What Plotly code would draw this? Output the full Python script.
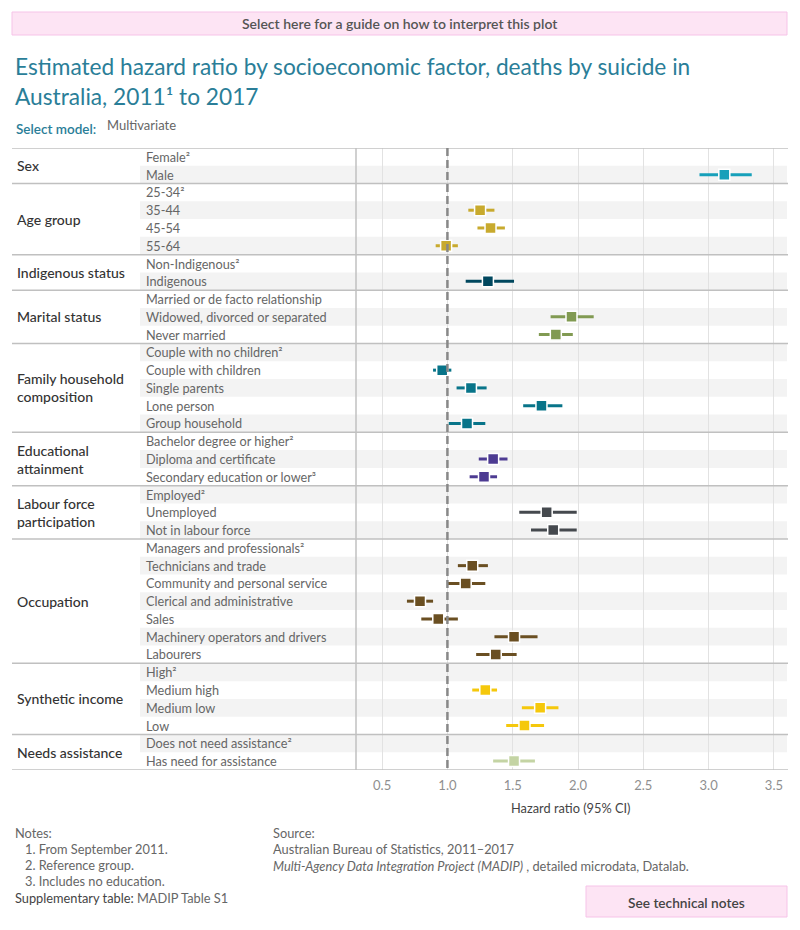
import plotly.graph_objects as go

# ---------------- data ----------------
group_names = ["Sex", "Age group", "Indigenous status", "Marital status",
               "Family household<br>composition", "Educational<br>attainment",
               "Labour force<br>participation", "Occupation", "Synthetic income",
               "Needs assistance"]
group_colors = ["#17a0ba", "#c8aa2e", "#00475e", "#819a52", "#087489",
                "#4d3b92", "#45494e", "#6a4f22", "#f5c80c", "#c4d4a4"]

row_group = [0, 0,
             1, 1, 1, 1,
             2, 2,
             3, 3, 3,
             4, 4, 4, 4, 4,
             5, 5, 5,
             6, 6, 6,
             7, 7, 7, 7, 7, 7, 7,
             8, 8, 8, 8,
             9, 9]
row_labels = ["Female²", "Male",
              "25-34²", "35-44", "45-54", "55-64",
              "Non-Indigenous²", "Indigenous",
              "Married or de facto relationship", "Widowed, divorced or separated", "Never married",
              "Couple with no children²", "Couple with children", "Single parents", "Lone person", "Group household",
              "Bachelor degree or higher²", "Diploma and certificate", "Secondary education or lower³",
              "Employed²", "Unemployed", "Not in labour force",
              "Managers and professionals²", "Technicians and trade", "Community and personal service",
              "Clerical and administrative", "Sales", "Machinery operators and drivers", "Labourers",
              "High²", "Medium high", "Medium low", "Low",
              "Does not need assistance²", "Has need for assistance"]
hazard = [None, 3.12,
          None, 1.25, 1.33, 0.99,
          None, 1.31,
          None, 1.95, 1.83,
          None, 0.96, 1.18, 1.72, 1.15,
          None, 1.35, 1.28,
          None, 1.76, 1.81,
          None, 1.19, 1.14, 0.79, 0.93, 1.51, 1.37,
          None, 1.29, 1.71, 1.59,
          None, 1.51]
ci_low = [None, 2.93,
          None, 1.16, 1.23, 0.91,
          None, 1.14,
          None, 1.79, 1.70,
          None, 0.89, 1.07, 1.58, 1.01,
          None, 1.24, 1.17,
          None, 1.55, 1.64,
          None, 1.08, 1.00, 0.69, 0.80, 1.36, 1.22,
          None, 1.19, 1.57, 1.45,
          None, 1.35]
ci_high = [None, 3.33,
           None, 1.36, 1.44, 1.08,
           None, 1.51,
           None, 2.12, 1.96,
           None, 1.03, 1.30, 1.88, 1.29,
           None, 1.46, 1.38,
           None, 1.99, 1.99,
           None, 1.31, 1.29, 0.89, 1.08, 1.69, 1.53,
           None, 1.38, 1.85, 1.74,
           None, 1.67]
x_ticks = [0.5, 1.0, 1.5, 2.0, 2.5, 3.0, 3.5]
x_range = [0.3, 3.6]

# ---------------- layout helpers ----------------
W, H = 800, 930
FONT = "Lato"
def px(x):
    return x / W
def py(y):
    return 1 - y / H

PLOT_L, PLOT_R = 356, 787
PLOT_T, PLOT_B = 148, 770
n_rows = len(row_labels)

fig = go.Figure()

for g, (gname, col) in enumerate(zip(group_names, group_colors)):
    idx = [i for i in range(n_rows) if row_group[i] == g and hazard[i] is not None]
    fig.add_trace(go.Scatter(
        x=[hazard[i] for i in idx],
        y=[i for i in idx],
        mode="markers",
        marker=dict(symbol="square", size=11, color=col,
                    line=dict(color="white", width=1.5)),
        error_x=dict(type="data", symmetric=False,
                     array=[ci_high[i] - hazard[i] for i in idx],
                     arrayminus=[hazard[i] - ci_low[i] for i in idx],
                     color=col, thickness=3, width=0),
        name=gname.replace("<br>", " "),
        showlegend=False,
        hovertemplate="%{x:.2f}<extra></extra>",
    ))

shapes = []
annotations = []

# row shading
for i in range(n_rows):
    if i % 2 == 1:
        shapes.append(dict(type="rect", xref="paper", yref="y",
                           x0=px(140), x1=px(PLOT_R), y0=i - 0.5, y1=i + 0.5,
                           fillcolor="#f3f3f3", line=dict(width=0), layer="below"))
    annotations.append(dict(xref="paper", yref="y", x=px(144), y=i,
                            text=row_labels[i], showarrow=False,
                            xanchor="left", yanchor="middle",
                            font=dict(family=FONT, size=12.7, color="#666666")))

# group separators and labels
bounds = [-0.5]
for g in range(len(group_names)):
    idx = [i for i in range(n_rows) if row_group[i] == g]
    bounds.append(max(idx) + 0.5)
    annotations.append(dict(xref="paper", yref="y", x=px(15), y=(min(idx) + max(idx)) / 2,
                            text=group_names[g], showarrow=False,
                            xanchor="left", yanchor="middle", align="left",
                            font=dict(family=FONT, size=14, color="#333333", weight=500)))
for b in bounds:
    shapes.append(dict(type="line", xref="paper", yref="y",
                       x0=px(12), x1=px(PLOT_R + 1), y0=b, y1=b,
                       line=dict(color="#c0c0c0", width=1.5), layer="above"))

# left axis line
shapes.append(dict(type="line", xref="paper", yref="y", x0=px(PLOT_L), x1=px(PLOT_L),
                   y0=-0.5, y1=n_rows - 0.5, line=dict(color="#c0c0c0", width=1.5), layer="above"))
# reference line at 1
shapes.append(dict(type="line", xref="x", yref="y", x0=1, x1=1,
                   y0=-0.5, y1=n_rows - 0.5,
                   line=dict(color="#888888", width=2.5, dash="8px,4px"), layer="above"))

# top button
shapes.append(dict(type="rect", xref="paper", yref="paper", x0=px(12), x1=px(787),
                   y0=py(35), y1=py(12), fillcolor="#fde4f4",
                   line=dict(color="#f6c3e8", width=1)))
annotations.append(dict(xref="paper", yref="paper", x=px(400), y=py(24),
                        text="Select here for a guide on how to interpret this plot",
                        showarrow=False, xanchor="center", yanchor="middle",
                        font=dict(family=FONT, size=14, color="#555555", weight=600)))
# bottom button
shapes.append(dict(type="rect", xref="paper", yref="paper", x0=px(586), x1=px(787),
                   y0=py(917), y1=py(886), fillcolor="#fde4f4",
                   line=dict(color="#f6c3e8", width=1)))
annotations.append(dict(xref="paper", yref="paper", x=px(686), y=py(902),
                        text="See technical notes",
                        showarrow=False, xanchor="center", yanchor="middle",
                        font=dict(family=FONT, size=13.7, color="#444444", weight=600)))

# title
annotations.append(dict(xref="paper", yref="paper", x=px(13), y=py(51),
                        text="Estimated hazard ratio by socioeconomic factor, deaths by suicide in<br>Australia, 2011¹ to 2017",
                        showarrow=False, xanchor="left", yanchor="top", align="left",
                        font=dict(family=FONT, size=22.7, color="#2a7e98")))
annotations.append(dict(xref="paper", yref="paper", x=px(14), y=py(129),
                        text="Select model:", showarrow=False, xanchor="left", yanchor="middle",
                        font=dict(family=FONT, size=13.5, color="#2a7e98", weight=600)))
annotations.append(dict(xref="paper", yref="paper", x=px(105), y=py(125),
                        text="Multivariate", showarrow=False, xanchor="left", yanchor="middle",
                        font=dict(family=FONT, size=13, color="#666666")))

# x-axis title
annotations.append(dict(xref="paper", yref="paper", x=px(571), y=py(808),
                        text="Hazard ratio (95% CI)", showarrow=False,
                        xanchor="center", yanchor="middle",
                        font=dict(family=FONT, size=12.8, color="#444444")))

# notes
note_font = dict(family=FONT, size=12.8, color="#666666")
notes = [(13, 833, "Notes:"), (23, 849, "1. From September 2011."),
         (23, 865, "2. Reference group."), (23, 881, "3. Includes no education."),
         (13, 898, "<span style='color:#444444'>Supplementary table:</span> MADIP Table S1"),
         (271, 833, "Source:"), (271, 849, "Australian Bureau of Statistics, 2011–2017"),
         (271, 866, "<i>Multi-Agency Data Integration Project (MADIP)</i> , detailed microdata, Datalab.")]
for x, y, t in notes:
    annotations.append(dict(xref="paper", yref="paper", x=px(x), y=py(y), text=t,
                            showarrow=False, xanchor="left", yanchor="middle", font=note_font))

fig.update_layout(
    width=W, height=H,
    margin=dict(l=0, r=0, t=0, b=0),
    paper_bgcolor="white", plot_bgcolor="rgba(0,0,0,0)",
    showlegend=False,
    xaxis=dict(domain=[px(PLOT_L), px(PLOT_R)], range=x_range,
               tickvals=x_ticks, ticktext=[f"{v:.1f}" for v in x_ticks],
               showgrid=True, gridcolor="#e2e2e2", gridwidth=1,
               zeroline=False, showline=False, ticks="", ticklabelstandoff=6,
               tickfont=dict(family=FONT, size=13, color="#8f8f8f"),
               fixedrange=True),
    yaxis=dict(domain=[py(PLOT_B), py(PLOT_T)], range=[n_rows - 0.5, -0.5],
               showgrid=False, zeroline=False, showticklabels=False, fixedrange=True),
    shapes=shapes,
    annotations=annotations,
)

fig.write_html("out.html")
